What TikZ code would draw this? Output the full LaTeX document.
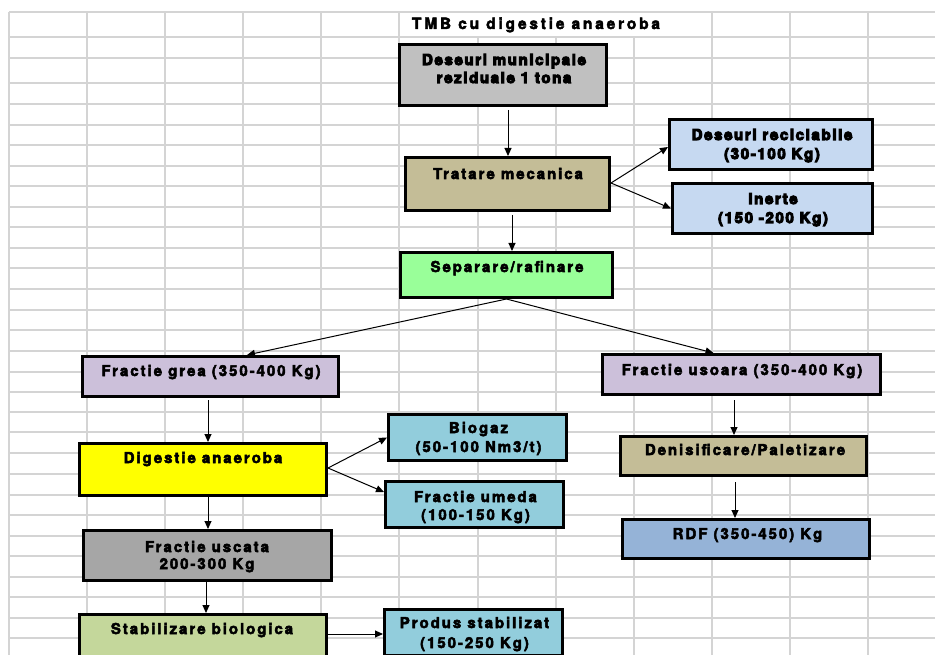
\documentclass[tikz,border=0pt]{standalone}
\usepackage{fontspec}
\setmainfont{Liberation Sans}
\newfontfamily\boxfont{texgyreheros}[Extension=.otf, UprightFont=*-bold, LetterSpace=13]
\newfontfamily\heavyfont{texgyreheros}[Extension=.otf, UprightFont=*-bold, LetterSpace=11]
\newfontfamily\titlefont{texgyreheros}[Extension=.otf, UprightFont=*-bold, LetterSpace=18]
\newcommand\strk[2]{\special{pdf:literal direct 2 Tr #1 w 0 G}#2\special{pdf:literal direct 0 Tr}}
\usetikzlibrary{arrows.meta}
\definecolor{cgray}{HTML}{C0C0C0}
\definecolor{ctan}{HTML}{C4BD97}
\definecolor{clblue}{HTML}{C6D9F1}
\definecolor{cgreen}{HTML}{99FF99}
\definecolor{clav}{HTML}{CCC0DA}
\definecolor{cyel}{HTML}{FFFF00}
\definecolor{ccyan}{HTML}{92CDDC}
\definecolor{cdgray}{HTML}{A6A6A6}
\definecolor{colive}{HTML}{C4D79B}
\definecolor{cblue}{HTML}{95B3D7}
\definecolor{cgrid}{HTML}{D4D4D4}
\tikzset{
  boxnode/.style={draw=black, line width=3pt, inner sep=0pt, rectangle},
  txt/.style={anchor=base, inner sep=0pt, font=\boxfont\fontsize{15}{18}\selectfont},
  htxt/.style={anchor=base, inner sep=0pt, font=\heavyfont\fontsize{15}{18}\selectfont},
  arr/.style={draw=black, line width=1pt, -{Triangle[length=8pt,width=7pt]}},
  gridline/.style={draw=cgrid, line width=1.4pt}
}
\begin{document}
\begin{tikzpicture}[x=1pt,y=-1pt]
\useasboundingbox (0,0) rectangle (935,655);
\clip (0,0) rectangle (935,655);
% grid
\foreach \gx in {9,87,165,243,321,399,712,790,868}
  \draw[gridline] (\gx,12) -- (\gx,660);
\foreach \gx in {478,556,634}
  \draw[gridline] (\gx,37) -- (\gx,660);
\foreach \gy in {12,37,58,83,104,125,145,166,186,207,227,248,268,289,310,330,351,372,392,412,432,453,474,495,515,536,556,577,597,618,638}
  \draw[gridline] (9,\gy) -- (940,\gy);
% title
\node[anchor=base, inner sep=0pt, font=\titlefont\fontsize{15.5}{18}\selectfont] (title) at (536,29) {\strk{0.45}{TMB cu digestie anaeroba}};
% boxes
\node[boxnode, fill=cgray, minimum width=207pt, minimum height=61pt] (b1) at (503,75) {};
\node[boxnode, fill=ctan, minimum width=204pt, minimum height=53pt] (trat) at (507.5,184) {};
\node[boxnode, fill=clblue, minimum width=203pt, minimum height=50pt] (recic) at (771,144.5) {};
\node[boxnode, fill=clblue, minimum width=200pt, minimum height=50pt] (inerte) at (772.5,208.5) {};
\node[boxnode, fill=cgreen, minimum width=212pt, minimum height=45pt] (sep) at (506.5,275) {};
\node[boxnode, fill=clav, minimum width=256pt, minimum height=40pt] (grea) at (210.5,376.5) {};
\node[boxnode, fill=clav, minimum width=278pt, minimum height=40pt] (usoara) at (741.5,374.5) {};
\node[boxnode, fill=cyel, minimum width=247pt, minimum height=52pt] (dig) at (203,469.5) {};
\node[boxnode, fill=ccyan, minimum width=178pt, minimum height=46pt] (biogaz) at (477.5,437.5) {};
\node[boxnode, fill=ccyan, minimum width=178pt, minimum height=46pt] (umeda) at (474.5,504.5) {};
\node[boxnode, fill=cdgray, minimum width=248pt, minimum height=50pt] (uscata) at (207.5,555.5) {};
\node[boxnode, fill=colive, minimum width=247pt, minimum height=52pt] (stab) at (203,640.5) {};
\node[boxnode, fill=ccyan, minimum width=178pt, minimum height=46pt] (produs) at (473.5,632.5) {};
\node[boxnode, fill=ctan, minimum width=246pt, minimum height=39pt] (denis) at (743.5,456) {};
\node[boxnode, fill=cblue, minimum width=247pt, minimum height=39pt] (rdf) at (746,539) {};
% texts
\node[htxt] (t1a) at (504,65) {\strk{1.05}{Deseuri municipale}};
\node[htxt] (t1b) at (504,83) {\strk{1.05}{reziduale 1 tona}};
\node[txt] (t2) at (508,179) {\strk{0.5}{Tratare mecanica}};
\node[htxt] (t3a) at (772,140) {\strk{1.05}{Deseuri reciclabile}};
\node[htxt] (t3b) at (772,159) {\strk{1.05}{(30-100 Kg)}};
\node[htxt] (t4a) at (773,204) {\strk{1.05}{Inerte}};
\node[htxt] (t4b) at (773,223) {\strk{1.05}{(150 -200 Kg)}};
\node[txt] (t5) at (507,272) {\strk{0.5}{Separare/rafinare}};
\node[txt] (t6) at (211,376) {\strk{0.5}{Fractie grea (350-400 Kg)}};
\node[txt] (t7) at (742,375) {\strk{0.5}{Fractie usoara (350-400 Kg)}};
\node[txt] (t8) at (203,463) {\strk{0.5}{Digestie anaeroba}};
\node[txt] (t9a) at (478.5,433) {\strk{0.5}{Biogaz}};
\node[txt] (t9b) at (478.5,452) {\strk{0.5}{(50-100 Nm3/t)}};
\node[txt] (t10a) at (475.5,502) {\strk{0.5}{Fractie umeda}};
\node[txt] (t10b) at (475.5,520) {\strk{0.5}{(100-150 Kg)}};
\node[txt] (t11a) at (207,552) {\strk{0.5}{Fractie uscata}};
\node[txt] (t11b) at (207,569) {\strk{0.5}{200-300 Kg}};
\node[txt] (t12) at (202,634) {\strk{0.5}{Stabilizare biologica}};
\node[txt] (t13a) at (474.5,628) {\strk{0.5}{Produs stabilizat}};
\node[txt] (t13b) at (474.5,648) {\strk{0.5}{(150-250 Kg)}};
\node[txt] (t14) at (745,455) {\strk{0.5}{Denisificare/Paletizare}};
\node[txt] (t15) at (747.5,539) {\strk{0.5}{RDF (350-450) Kg}};
% connectors
\draw[arr] ([xshift=5pt,yshift=-3pt]b1.south) -- ([xshift=0.5pt]trat.north);
\draw[arr] ([xshift=4.5pt,yshift=-3pt]trat.south) -- ([xshift=5.5pt]sep.north);
\draw[arr] ([yshift=1pt]trat.east) -- ([yshift=-2.5pt]recic.west);
\draw[arr] ([yshift=1pt]trat.east) -- (inerte.west);
\draw[arr] (sep.south) -- ([xshift=36.5pt]grea.north);
\draw[arr] (sep.south) -- ([xshift=-28pt]usoara.north);
\draw[arr] ([xshift=-2.5pt,yshift=-2pt]grea.south) -- ([xshift=5pt]dig.north);
\draw[arr] ([yshift=1.5pt]dig.east) -- (biogaz.west);
\draw[arr] ([yshift=1.5pt]dig.east) -- ([yshift=12.5pt]umeda.west);
\draw[arr] ([xshift=5pt]dig.south) -- ([xshift=0.5pt]uscata.north);
\draw[arr] ([xshift=-1.5pt]uscata.south) -- ([xshift=3pt]stab.north);
\draw[arr] ([yshift=6.5pt]stab.east) -- ([yshift=-1.5pt]produs.west);
\draw[arr] ([xshift=-7.5pt,yshift=-4pt]usoara.south) -- ([xshift=-9.5pt]denis.north);
\draw[arr] ([xshift=-8.5pt,yshift=-5pt]denis.south) -- ([xshift=-11pt]rdf.north);
\end{tikzpicture}
\end{document}
